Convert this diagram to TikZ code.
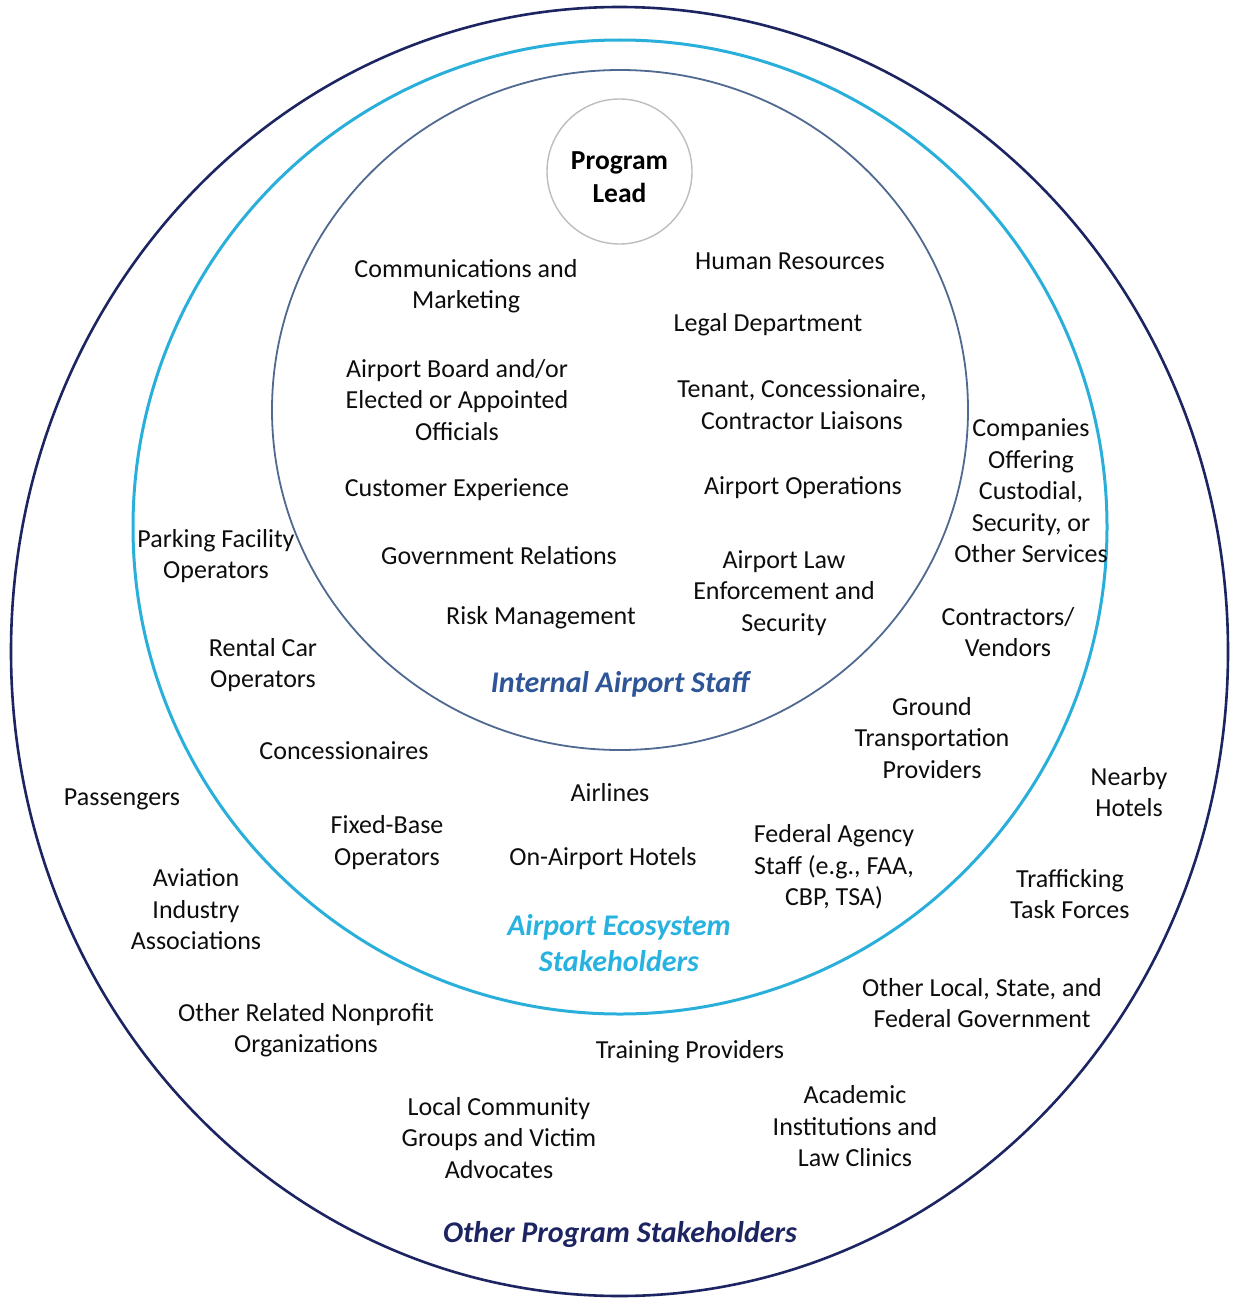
\documentclass[tikz,border=0pt]{standalone}
\usepackage{fontspec}
\setmainfont{Carlito}
\definecolor{navyring}{HTML}{1C2461}
\definecolor{skyring}{HTML}{2AAFDB}
\definecolor{slatering}{HTML}{4F6990}
\definecolor{leadring}{HTML}{BDBDBD}
\definecolor{staffblue}{HTML}{2E5597}
\definecolor{ecoblue}{HTML}{27B2E0}
\definecolor{othernavy}{HTML}{1C2461}
\definecolor{bodytext}{HTML}{0D0D0D}
\tikzset{
  item/.style={align=center, inner sep=0pt, text=bodytext,
    font=\fontsize{26}{31.5}\selectfont},
  ringtitle/.style={align=center, inner sep=0pt,
    font=\fontsize{30}{36}\selectfont\bfseries\itshape},
}
\begin{document}
\begin{tikzpicture}[x=1pt,y=-1pt]
\useasboundingbox (0,0) rectangle (1232,1298);
% rings
\draw[navyring, line width=2.6pt] (619.5,651.5) ellipse [x radius=608.5, y radius=644.5];
\draw[skyring, line width=3pt] (620,527) circle [radius=487];
\draw[slatering, line width=1.8pt] (620,410) ellipse [x radius=348, y radius=340];
\node[circle, draw=leadring, line width=1.4pt, minimum size=145pt, inner sep=0pt] (lead) at (619.5,171.5) {};
\node[align=center, inner sep=0pt, text=black,
  font=\fontsize{27.5}{33}\selectfont\bfseries] (leadtext) at (619.5,177) {Program\\Lead};

% internal airport staff
\node[item] (comm) at (466,286) {Communications and\\Marketing};
\node[item] (hr) at (790,261) {Human Resources};
\node[item] (legal) at (768,325) {Legal Department};
\node[item] (board) at (457,400) {Airport Board and/or\\Elected or Appointed\\Officials};
\node[item] (tenant) at (802,404.5) {Tenant, Concessionaire,\\Contractor Liaisons};
\node[item] (cx) at (457,490) {Customer Experience};
\node[item] (ops) at (803,487.5) {Airport Operations};
\node[item] (gov) at (499,556) {Government Relations};
\node[item] (law) at (784,593) {Airport Law\\Enforcement and\\Security};
\node[item] (risk) at (541,618) {Risk Management};
\node[ringtitle, text=staffblue] (staff) at (620,684) {Internal Airport Staff};

% airport ecosystem stakeholders
\node[item] (custodial) at (1031,491) {Companies\\Offering\\Custodial,\\Security, or\\Other Services};
\node[item] (parking) at (216,556) {Parking Facility\\Operators};
\node[item] (contractors) at (1008,632) {Contractors/\\Vendors};
\node[item] (rental) at (263,665) {Rental Car\\Operators};
\node[item] (ground) at (932,738) {Ground\\Transportation\\Providers};
\node[item] (conc) at (344,751) {Concessionaires};
\node[item] (airlines) at (610,793) {Airlines};
\node[item] (fbo) at (387,842.5) {Fixed-Base\\Operators};
\node[item] (hotels) at (603,858.5) {On-Airport Hotels};
\node[item] (federal) at (834,867) {Federal Agency\\Staff (e.g., FAA,\\CBP, TSA)};
\node[ringtitle, text=ecoblue] (eco) at (619,943.5) {Airport Ecosystem\\Stakeholders};

% other program stakeholders
\node[item] (nearby) at (1129,792) {Nearby\\Hotels};
\node[item] (pax) at (122,799.5) {Passengers};
\node[item] (aviation) at (196,909.5) {Aviation\\Industry\\Associations};
\node[item] (traffic) at (1070,894) {Trafficking\\Task Forces};
\node[item] (localgov) at (982,1003) {Other Local, State, and\\Federal Government};
\node[item] (nonprofit) at (306,1030) {Other Related Nonprofit\\Organizations};
\node[item] (training) at (690,1051.5) {Training Providers};
\node[item] (academic) at (855,1126.5) {Academic\\Institutions and\\Law Clinics};
\node[item] (community) at (499,1138) {Local Community\\Groups and Victim\\Advocates};
\node[ringtitle, text=othernavy] (other) at (620,1234) {Other Program Stakeholders};
\end{tikzpicture}
\end{document}
